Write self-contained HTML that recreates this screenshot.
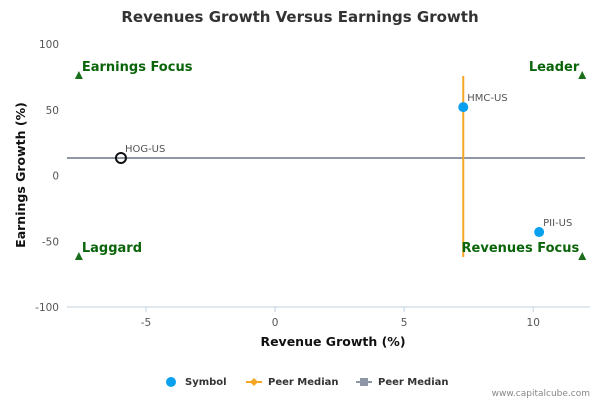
<!DOCTYPE html>
<html><head><meta charset="utf-8"><style>
html,body{margin:0;padding:0;background:#fff;width:600px;height:400px;overflow:hidden}
svg{font-family:"DejaVu Sans","Liberation Sans",sans-serif}
</style></head><body>
<svg id="c" width="600" height="400">
<text x="300" y="22" text-anchor="middle" font-size="15" font-weight="bold" fill="#333">Revenues Growth Versus Earnings Growth</text>
<g id="axes"></g><g id="marks"></g>
<text x="333" y="346" text-anchor="middle" font-size="12.5" font-weight="bold" fill="#111">Revenue Growth (%)</text>
<text transform="translate(25,175) rotate(-90)" text-anchor="middle" font-size="12.5" font-weight="bold" fill="#111">Earnings Growth (%)</text>
<g font-size="10" font-weight="bold" fill="#333">
<g><circle cx="171" cy="382" r="5" fill="#0aa0f0"/><text x="185" y="385">Symbol</text></g>
<g><line x1="246" y1="382" x2="262" y2="382" stroke="#f5a623" stroke-width="2"/><path d="M254 378 L258 382 L254 386 L250 382Z" fill="#f5a623"/><text x="268" y="385">Peer Median</text></g>
<g><line x1="356" y1="382" x2="372" y2="382" stroke="#8f96a6" stroke-width="2"/><rect x="360" y="378" width="8" height="8" fill="#8f96a6"/><text x="378" y="385">Peer Median</text></g>
</g>
<text x="590" y="396" text-anchor="end" font-size="9" fill="#888" font-weight="normal">www.capitalcube.com</text>
</svg>
<script>
const xTicks=[-5,0,5,10];
const yTicks=[100,50,0,-50,-100];
const symbols=["HMC-US","PII-US"];
const revenueGrowth=[7.29,10.23];
const earningsGrowth=[52,-43];
const selfName="HOG-US";
const selfRevenue=-5.97;
const selfEarnings=13.3;
const peerMedianRevenue=7.29;
const peerMedianEarnings=13.3;
const quadrantLabels=["Earnings Focus","Leader","Laggard","Revenues Focus"];
const quadX=[-7.6,11.9,-7.6,11.9];
const quadY=[75.7,75.7,-62,-62];
const xMin=-8.06,xMax=12.2,yMin=-100,yMax=100;
const L=67,R=590,T=44,B=307;
const sx=v=>L+(v-xMin)/(xMax-xMin)*(R-L);
const sy=v=>B-(v-yMin)/(yMax-yMin)*(B-T);
const NS="http://www.w3.org/2000/svg";
function mk(t,a,p){const e=document.createElementNS(NS,t);for(const k in a)e.setAttribute(k,a[k]);p.appendChild(e);return e;}
const ax=document.getElementById('axes'),mg=document.getElementById('marks');
const xl=mk('line',{x1:L,y1:B,x2:R,y2:B,stroke:'#c0d0e0'},ax);


xTicks.forEach(v=>{const tk=mk('line',{x1:sx(v),y1:B,x2:sx(v),y2:B+5,stroke:'#c0d0e0'},ax);


const t=mk('text',{x:sx(v),y:B+19,'text-anchor':'middle','font-size':10.5,fill:'#555'},ax);t.textContent=v;

});
yTicks.forEach(v=>{const t=mk('text',{x:59,y:sy(v)+4,'text-anchor':'end','font-size':10.5,fill:'#555'},ax);t.textContent=v;

});
const hl=mk('line',{x1:L,y1:sy(peerMedianEarnings),x2:R-5,y2:sy(peerMedianEarnings),stroke:'#8f96a6','stroke-width':2},mg);


const vl=mk('line',{x1:sx(peerMedianRevenue),y1:sy(75.7),x2:sx(peerMedianRevenue),y2:sy(-62),stroke:'#f5a623','stroke-width':2},mg);


quadrantLabels.forEach((q,i)=>{const x=sx(quadX[i]),y=sy(quadY[i]);
const tr=mk('path',{d:`M${x} ${y-5} L${x+4} ${y+3} L${x-4} ${y+3}Z`,fill:'#1a6e1a'},mg);


const left=i%2==0;
const t=mk('text',{x:left?x+3:x-3,y:y-5,'text-anchor':left?'start':'end','font-size':13,'font-weight':'bold',fill:'#0a640a'},mg);t.textContent=q;

});
symbols.forEach((s,i)=>{const c=mk('circle',{cx:sx(revenueGrowth[i]),cy:sy(earningsGrowth[i]),r:5,fill:'#0aa0f0'},mg);


const t=mk('text',{x:sx(revenueGrowth[i])+4,y:sy(earningsGrowth[i])-6,'font-size':10,fill:'#555'},mg);t.textContent=s;

});
const sc=mk('circle',{cx:sx(selfRevenue),cy:sy(selfEarnings),r:5,fill:'none',stroke:'#111','stroke-width':2},mg);


const st=mk('text',{x:sx(selfRevenue)+4,y:sy(selfEarnings)-6,'font-size':10,fill:'#555'},mg);st.textContent=selfName;


</script>
</body></html>
